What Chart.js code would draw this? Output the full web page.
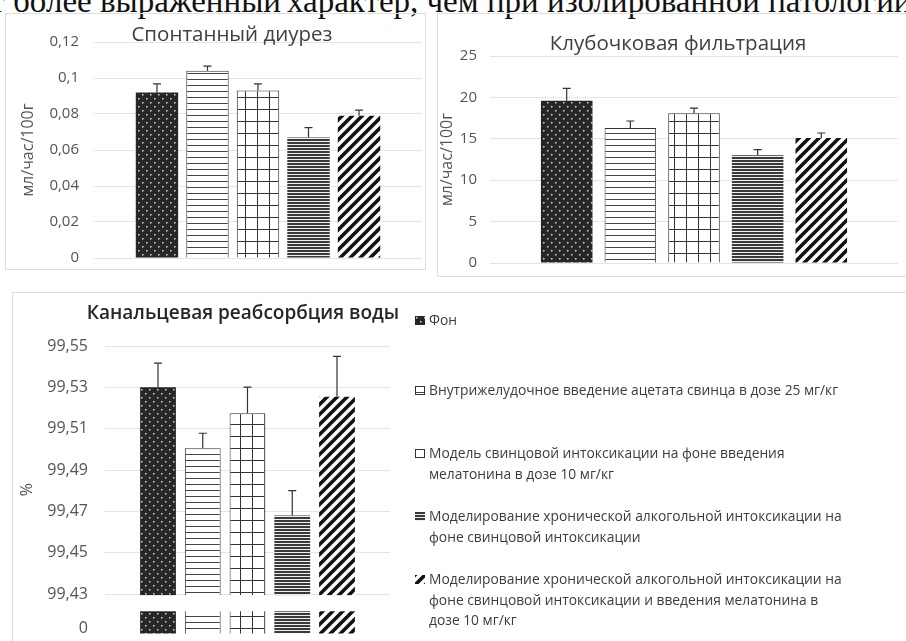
<!DOCTYPE html>
<html>
<head>
<meta charset="utf-8">
<script src="https://cdn.jsdelivr.net/npm/chart.js@4.4.1/dist/chart.umd.min.js"></script>
<style>
body { margin: 0; width: 906px; height: 641px; overflow: hidden; background: #fff; position: relative; font-family: "Open Sans", sans-serif; }
canvas { position: absolute; }
.panel { position: absolute; border: 1px solid #dedede; box-sizing: border-box; }
.ttl { position: absolute; width: 400px; text-align: center; font-size: 20.5px; line-height: 24px; color: #404040; white-space: nowrap; }
.docline { position: absolute; top: -15px; font-family: "Liberation Serif", serif; font-size: 33px; line-height: 33px; white-space: nowrap; color: #111; }
#legend { position: absolute; left: 415px; top: 310px; width: 460px; font-size: 13.8px; line-height: 20.5px; color: #3c3c3c; }
#legend .item { display: flex; align-items: flex-start; height: 63px; }
#legend .item:first-child { height: 70px; }
#legend canvas { position: static; flex: none; margin: 6px 4px 0 0; }
</style>
</head>
<body>
<div class="docline" style="right:625px">носит более выраженный</div>
<div class="docline" style="left:287px">характер, чем при изолированной патологии</div>

<div class="panel" style="left:5px;top:13px;width:421px;height:257px"></div>
<div class="panel" style="left:437px;top:13px;width:475px;height:264px"></div>
<div class="panel" style="left:12px;top:292px;width:900px;height:360px"></div>

<canvas id="diuresis" width="420" height="269" style="left:5px;top:13px"></canvas>
<canvas id="filtration" width="472" height="272" style="left:434px;top:13px"></canvas>
<canvas id="reabsorption" width="894" height="368" style="left:12px;top:292px"></canvas>

<div class="ttl" style="left:32px;top:21px">Спонтанный диурез</div>
<div class="ttl" style="left:478px;top:30px">Клубочковая фильтрация</div>
<div class="ttl" style="left:43px;top:300px;font-size:19px;font-weight:600;color:#262626">Канальцевая реабсорбция воды</div>

<div id="legend"></div>

<script>
const groups = [
    'Фон',
    'Внутрижелудочное введение ацетата свинца в дозе 25 мг/кг',
    'Модель свинцовой интоксикации на фоне введения мелатонина в дозе 10 мг/кг',
    'Моделирование хронической алкогольной интоксикации на фоне свинцовой интоксикации',
    'Моделирование хронической алкогольной интоксикации на фоне свинцовой интоксикации и введения мелатонина в дозе 10 мг/кг'
];

// Спонтанный диурез, мл/час/100г
const diuresis = [0.092, 0.104, 0.093, 0.067, 0.079];
const diuresisErr = [0.0047, 0.0026, 0.0037, 0.0054, 0.0032];

// Клубочковая фильтрация, мл/час/100г
const filtration = [19.6, 16.3, 18.1, 13.0, 15.1];
const filtrationErr = [1.5, 0.85, 0.6, 0.7, 0.6];

// Канальцевая реабсорбция воды, %
const reabsorption = [99.530, 99.5005, 99.5175, 99.468, 99.5255];
const reabsorptionErr = [0.0117, 0.0073, 0.0126, 0.0121, 0.0195];
const reabTicks = [99.43, 99.45, 99.47, 99.49, 99.51, 99.53, 99.55];

// broken axis: the "0" tick sits just under the break
const REAB_MIN = 99.411;
const BREAK_ZERO = 99.4135;
const BREAK_FROM = 99.4217;
const BREAK_TO = 99.43;

function makeTile(kind) {
    const c = document.createElement('canvas');
    const x = c.getContext('2d');
    if (kind === 0) {
        c.width = 8; c.height = 8;
        x.fillStyle = '#262626'; x.fillRect(0, 0, 8, 8);
        x.fillStyle = '#d8d8d8';
        x.fillRect(1, 1, 1.5, 1.5);
        x.fillRect(5, 5, 1.5, 1.5);
    } else if (kind === 1) {
        c.width = 6; c.height = 6;
        x.fillStyle = '#fff'; x.fillRect(0, 0, 6, 6);
        x.fillStyle = '#444'; x.fillRect(0, 0, 6, 1);
    } else if (kind === 2) {
        c.width = 12; c.height = 12;
        x.fillStyle = '#fff'; x.fillRect(0, 0, 12, 12);
        x.fillStyle = '#333';
        x.fillRect(0, 0, 12, 1);
        x.fillRect(0, 0, 1, 12);
    } else if (kind === 3) {
        c.width = 3; c.height = 3;
        x.fillStyle = '#f0f0f0'; x.fillRect(0, 0, 3, 3);
        x.fillStyle = '#3a3a3a'; x.fillRect(0, 0, 3, 2);
    } else {
        c.width = 10; c.height = 10;
        x.fillStyle = '#fff'; x.fillRect(0, 0, 10, 10);
        x.strokeStyle = '#111'; x.lineWidth = 3.6;
        x.beginPath();
        x.moveTo(-5, 5); x.lineTo(5, -5);
        x.moveTo(0, 10); x.lineTo(10, 0);
        x.moveTo(5, 15); x.lineTo(15, 5);
        x.stroke();
    }
    return c;
}

const borders = ['rgba(0,0,0,0)', '#333', '#333', 'rgba(0,0,0,0)', 'rgba(0,0,0,0)'];

function buildDatasets(ctx, values, errs) {
    return values.map((v, i) => ({
        label: groups[i],
        data: [v],
        errors: [errs[i]],
        backgroundColor: ctx.createPattern(makeTile(i), 'repeat'),
        borderColor: borders[i],
        borderWidth: i === 1 || i === 2 ? 1 : 0
    }));
}

const errorBars = {
    id: 'errorBars',
    afterDatasetsDraw(chart) {
        const ctx = chart.ctx;
        const y = chart.scales.y;
        ctx.save();
        ctx.strokeStyle = '#333';
        ctx.lineWidth = 1.2;
        chart.data.datasets.forEach((ds, i) => {
            chart.getDatasetMeta(i).data.forEach((bar, j) => {
                const top = y.getPixelForValue(ds.data[j] + ds.errors[j]);
                ctx.beginPath();
                ctx.moveTo(bar.x, bar.y);
                ctx.lineTo(bar.x, top);
                ctx.moveTo(bar.x - 4, top);
                ctx.lineTo(bar.x + 4, top);
                ctx.stroke();
            });
        });
        ctx.restore();
    }
};

const axisBreak = {
    id: 'axisBreak',
    afterDatasetsDraw(chart) {
        const ctx = chart.ctx;
        const y = chart.scales.y;
        const a = chart.chartArea;
        const top = y.getPixelForValue(BREAK_TO) + 1;
        const bottom = y.getPixelForValue(BREAK_FROM);
        ctx.save();
        ctx.fillStyle = '#fff';
        ctx.fillRect(a.left, top, a.right - a.left, bottom - top);
        ctx.restore();
    }
};

const gridColor = '#e4e4e4';
const labelColor = '#555';

function commaNum(v, digits) {
    return String(+(+v).toFixed(digits)).replace('.', ',');
}

function barChart(id, values, errs, opts) {
    const canvas = document.getElementById(id);
    const ctx = canvas.getContext('2d');
    return new Chart(ctx, {
        type: 'bar',
        data: { labels: [''], datasets: buildDatasets(ctx, values, errs) },
        options: {
            responsive: false,
            animation: false,
            categoryPercentage: opts.catPct,
            barPercentage: opts.barPct,
            layout: { padding: opts.padding },
            plugins: { legend: { display: false }, tooltip: { enabled: false } },
            scales: {
                x: { display: false },
                y: Object.assign({
                    border: { display: false },
                    grid: { color: gridColor, drawTicks: false },
                    afterFit: s => { s.width = opts.axisWidth; },
                    title: {
                        display: true, text: opts.yTitle, color: labelColor,
                        font: { family: '"Open Sans", sans-serif', size: 16 },
                        padding: { top: opts.titlePad, bottom: 0 }
                    }
                }, opts.y)
            }
        },
        plugins: opts.plugins
    });
}

barChart('diuresis', diuresis, diuresisErr, {
    catPct: 0.77, barPct: 0.84,
    padding: { top: 29, bottom: 1, right: 3, left: 0 },
    axisWidth: 89, yTitle: 'мл/час/100г', titlePad: 14,
    y: {
        min: 0, max: 0.12,
        ticks: { stepSize: 0.02, padding: 15, color: labelColor, font: { family: '"Open Sans", sans-serif', size: 15 }, callback: v => commaNum(v, 2) }
    },
    plugins: [errorBars]
});

barChart('filtration', filtration, filtrationErr, {
    catPct: 0.78, barPct: 0.81,
    padding: { top: 43, bottom: 2, right: 8, left: 0 },
    axisWidth: 56, yTitle: 'мл/час/100г', titlePad: 4,
    y: {
        min: 0, max: 25,
        ticks: { stepSize: 5, padding: 13, color: labelColor, font: { family: '"Open Sans", sans-serif', size: 15 } }
    },
    plugins: [errorBars]
});

const reabChart = barChart('reabsorption', reabsorption, reabsorptionErr, {
    catPct: 0.785, barPct: 0.8,
    padding: { top: 54, bottom: 8, right: 516, left: 0 },
    axisWidth: 93, yTitle: '%', titlePad: 6,
    y: {
        min: REAB_MIN, max: 99.55,
        afterBuildTicks: s => {
            s.ticks = [BREAK_ZERO].concat(reabTicks).map(v => ({ value: v }));
        },
        grid: { drawTicks: false, color: c => c.tick && c.tick.value === BREAK_ZERO ? 'rgba(0,0,0,0)' : gridColor },
        ticks: {
            padding: 17, color: labelColor, font: { family: '"Open Sans", sans-serif', size: 16 },
            callback: v => v === BREAK_ZERO ? '0' : v.toFixed(2).replace('.', ',')
        }
    },
    plugins: [axisBreak, errorBars]
});

// HTML legend built from the chart's own legend items
const legendBox = document.getElementById('legend');
reabChart.options.plugins.legend.labels.generateLabels(reabChart).forEach(item => {
    const row = document.createElement('div');
    row.className = 'item';
    const sw = document.createElement('canvas');
    sw.width = 10; sw.height = 9;
    const sctx = sw.getContext('2d');
    sctx.fillStyle = sctx.createPattern(makeTile(item.datasetIndex), 'repeat');
    sctx.fillRect(0, 0, 10, 9);
    if (item.datasetIndex === 1 || item.datasetIndex === 2) {
        sctx.strokeStyle = '#333';
        sctx.strokeRect(0.5, 0.5, 9, 8);
    }
    const txt = document.createElement('div');
    txt.textContent = item.text;
    txt.style.width = '420px';
    row.appendChild(sw);
    row.appendChild(txt);
    legendBox.appendChild(row);
});
</script>
</body>
</html>
